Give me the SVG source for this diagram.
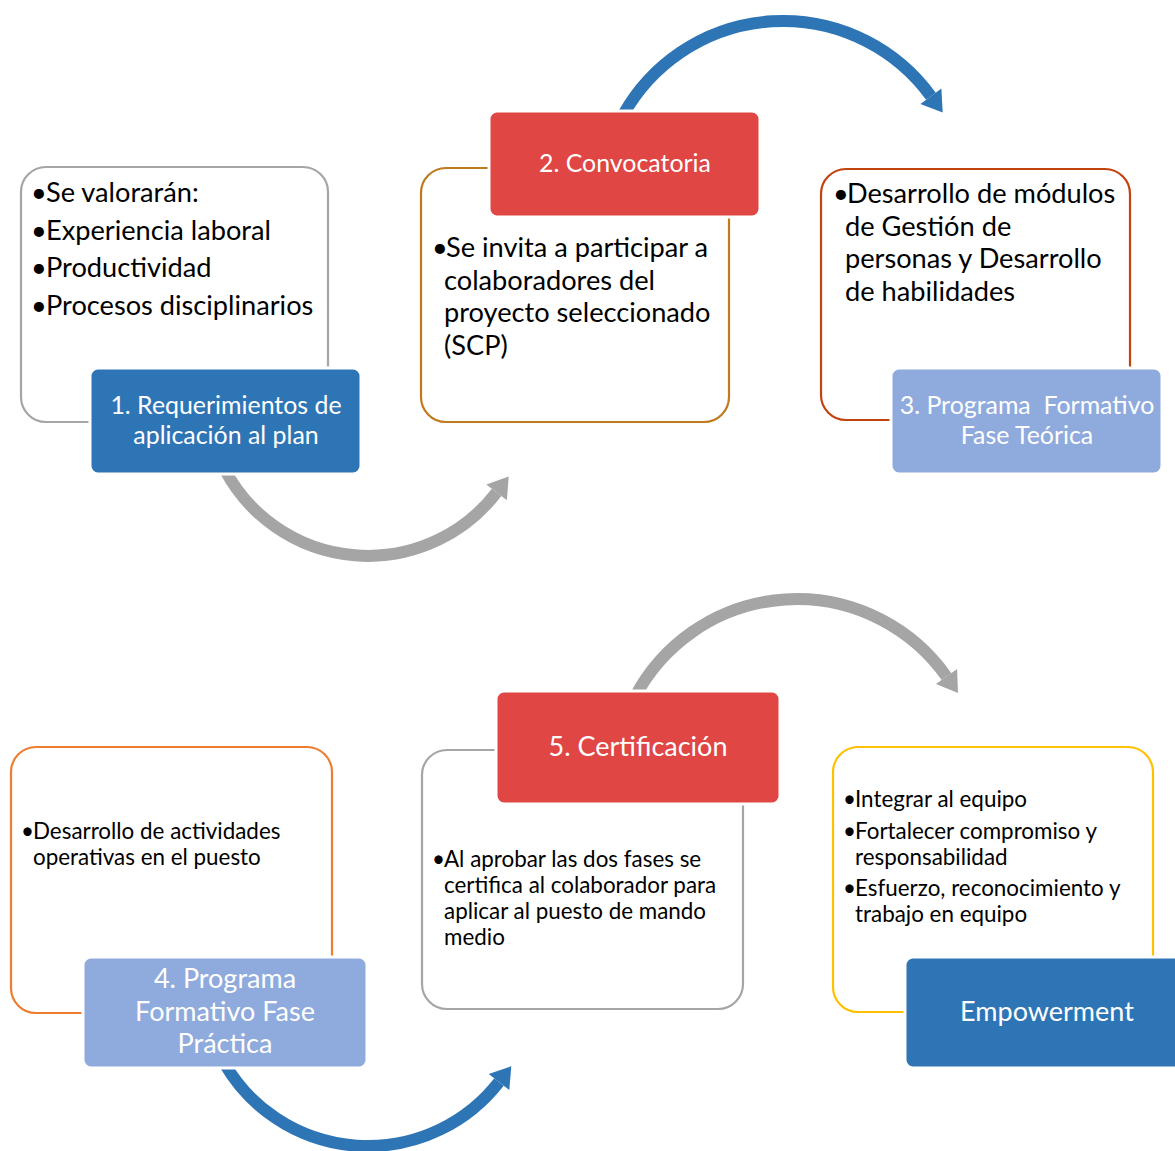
<svg xmlns="http://www.w3.org/2000/svg" width="1175" height="1151" viewBox="0 0 1175 1151">
<style>
.txt{font-family:Lato,"Open Sans","Liberation Sans",sans-serif;fill:#000}
.big{font-size:27.2px}
.small{font-size:22.4px}
.lbl{font-family:Lato,"Open Sans","Liberation Sans",sans-serif;fill:#fff;text-anchor:middle}
.lt{font-size:24.9px}
.lb{font-size:27px}
.card{fill:#fff;stroke-width:2.2}
.tag{stroke:#fff;stroke-width:3}
.arcG{fill:none;stroke:#a5a5a5;stroke-width:12}
.arcB{fill:none;stroke:#2e75b6;stroke-width:12}
</style>
<rect width="1175" height="1151" fill="#fff"/>
<g id="connectors">
<path class="arcG" d="M 225 470 A 162 162 0 0 0 496.6 492.4"/>
<polygon fill="#a5a5a5" points="508.7,476.5 506.9,500.3 486.3,484.5"/>
<path class="arcB" d="M 623.1 115 A 183 183 0 0 1 930.9 96.2"/>
<polygon fill="#2e75b6" points="942.7,112.4 941.4,88.5 920.4,103.9"/>
<path class="arcG" d="M 635 696.9 A 183 183 0 0 1 946.5 676.6"/>
<polygon fill="#a5a5a5" points="958,692.9 957.1,669.1 935.9,684.1"/>
<path class="arcB" d="M 224.2 1063 A 166 166 0 0 0 499 1082"/>
<polygon fill="#2e75b6" points="511.3,1066.2 509.3,1090 488.7,1074"/>
</g>
<g id="node1">
<rect class="card" x="21" y="167" width="307" height="255" rx="25" stroke="#a5a5a5"/>
<text class="txt big" y="202"><tspan x="31">•</tspan><tspan x="46">Se valorarán:</tspan></text>
<text class="txt big" y="239.5"><tspan x="31">•</tspan><tspan x="46">Experiencia laboral</tspan></text>
<text class="txt big" y="277"><tspan x="31">•</tspan><tspan x="46">Productividad</tspan></text>
<text class="txt big" y="314.5"><tspan x="31">•</tspan><tspan x="46">Procesos disciplinarios</tspan></text>
<rect class="tag" x="90" y="368" width="271" height="106" rx="8" fill="#2e75b6"/>
<text class="lbl lt" x="226" y="414">1. Requerimientos de</text>
<text class="lbl lt" x="226" y="444">aplicación al plan</text>
</g>
<g id="node2">
<rect class="card" x="421" y="168" width="308" height="254" rx="25" stroke="#c07a1e"/>
<text class="txt big" y="257"><tspan x="432">•</tspan><tspan x="446">Se invita a participar a</tspan></text>
<text class="txt big" x="444" y="289.5">colaboradores del</text>
<text class="txt big" x="444" y="322">proyecto seleccionado</text>
<text class="txt big" x="444" y="354.5">(SCP)</text>
<rect class="tag" x="489" y="111" width="271" height="106" rx="8" fill="#e04643"/>
<text class="lbl lt" x="625" y="172">2. Convocatoria</text>
</g>
<g id="node3">
<rect class="card" x="821" y="169" width="309" height="251" rx="25" stroke="#c1440e"/>
<text class="txt big" y="203"><tspan x="833">•</tspan><tspan x="847">Desarrollo de módulos</tspan></text>
<text class="txt big" x="845" y="235.5">de Gestión de</text>
<text class="txt big" x="845" y="268">personas y Desarrollo</text>
<text class="txt big" x="845" y="300.5">de habilidades</text>
<rect class="tag" x="891" y="368" width="271" height="106" rx="8" fill="#8faadc"/>
<text class="lbl lt" x="1027" y="414" xml:space="preserve">3. Programa  Formativo</text>
<text class="lbl lt" x="1027" y="444">Fase Teórica</text>
</g>
<g id="node4">
<rect class="card" x="11" y="747" width="321" height="266" rx="25" stroke="#ed7d31"/>
<text class="txt small" y="839"><tspan x="21">•</tspan><tspan x="33">Desarrollo de actividades</tspan></text>
<text class="txt small" x="33" y="865">operativas en el puesto</text>
<rect class="tag" x="83" y="957" width="284" height="111" rx="8" fill="#8faadc"/>
<text class="lbl lb" x="225" y="988">4. Programa</text>
<text class="lbl lb" x="225" y="1021">Formativo Fase</text>
<text class="lbl lb" x="225" y="1053">Práctica</text>
</g>
<g id="node5">
<rect class="card" x="422" y="750" width="321" height="259" rx="25" stroke="#a5a5a5"/>
<text class="txt small" y="867"><tspan x="432">•</tspan><tspan x="444">Al aprobar las dos fases se</tspan></text>
<text class="txt small" x="444" y="893">certifica al colaborador para</text>
<text class="txt small" x="444" y="919">aplicar al puesto de mando</text>
<text class="txt small" x="444" y="945">medio</text>
<rect class="tag" x="496" y="691" width="284" height="113" rx="8" fill="#e04643"/>
<text class="lbl lb" x="638" y="756">5. Certificación</text>
</g>
<g id="node6">
<rect class="card" x="833" y="747" width="320" height="265" rx="25" stroke="#ffc000"/>
<text class="txt small" y="807"><tspan x="843">•</tspan><tspan x="855">Integrar al equipo</tspan></text>
<text class="txt small" y="839"><tspan x="843">•</tspan><tspan x="855">Fortalecer compromiso y</tspan></text>
<text class="txt small" x="855" y="865">responsabilidad</text>
<text class="txt small" y="896"><tspan x="843">•</tspan><tspan x="855">Esfuerzo, reconocimiento y</tspan></text>
<text class="txt small" x="855" y="922">trabajo en equipo</text>
<rect class="tag" x="905" y="957" width="283" height="111" rx="8" fill="#2e75b6"/>
<text class="lbl lb" x="1047" y="1021">Empowerment</text>
</g>
</svg>
